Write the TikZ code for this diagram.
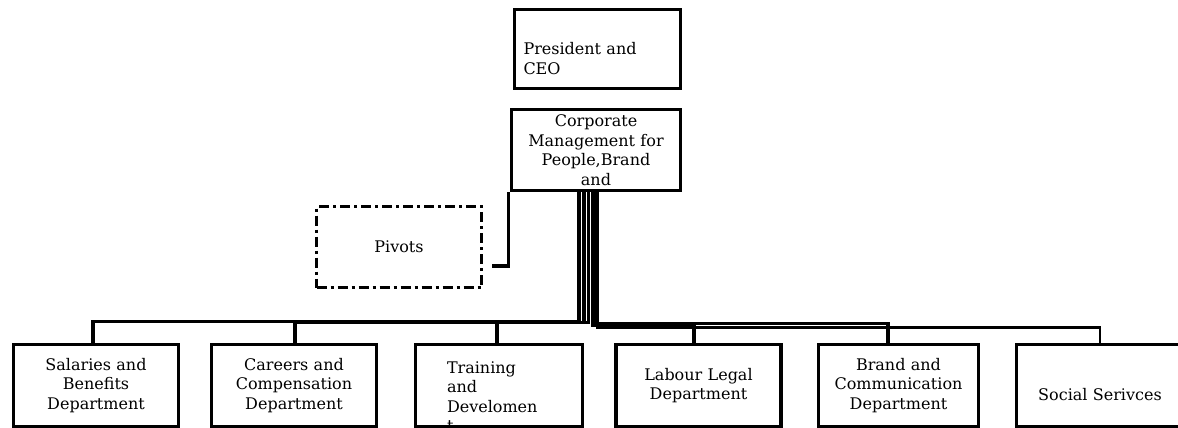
\documentclass[tikz,border=0pt]{standalone}
\usepackage{fontspec}
\setmainfont{DejaVu Serif}
\usepackage{tikz}
\usetikzlibrary{positioning}

\begin{document}
\begin{tikzpicture}[x=1pt, y=-1pt,
				org_box/.style    = {draw, rectangle, line width=3.6pt, inner sep=0pt,
					minimum width=165pt, minimum height=81pt, align=center,
					font=\fontsize{16}{19.5}\selectfont},
				org_dept/.style   = {org_box, minimum height=82pt, text width=150pt},
				org_pivot/.style  = {org_box, line width=3.2pt,
					dash pattern=on 10pt off 4pt on 3pt off 4pt},
				link/.style       = {line width=3.2pt},
				link_thin/.style  = {line width=2.4pt}
				]
				\useasboundingbox (0,0) rectangle (1178,428);
				\clip (0,0) rectangle (1178,428);
				
				\node[org_box, minimum width=166pt, minimum height=79pt, text width=148pt,
				align=left, text height=45pt, text depth=33pt]
				(pres) at (597.5,49) {President and\\CEO};
				\node[org_box, minimum width=169pt, text width=162pt]
				(corp) at (596,150) {Corporate\\Management for\\People,Brand\\and};
				\node[org_pivot] (piv) at (399,247) {Pivots};
				
				\node[org_dept] (sal) at (96,385.5) {Salaries and\\Benefits\\Department};
				\node[org_dept] (car) at (294,385.5) {Careers and\\Compensation\\Department};
				\node[org_dept, minimum width=167pt, text width=104pt, align=left,
				text height=27pt, text depth=52pt]
				(tra) at (499,385.5) {Training\\and\\Develomen\\t};
				\node[org_dept] (lab) at (698.5,385.5) {Labour Legal\\Department};
				\node[org_dept, minimum width=160pt] (bra) at (898.5,385.5) {Brand and\\Communication\\Department};
				\node[org_dept, minimum width=167pt, text height=54pt, text depth=25pt]
				(soc) at (1100,385.5) {Social Serivces};
				
				\draw[link] ([xshift=-1.5pt]corp.south west) |- ([xshift=9pt,yshift=-19pt]piv.east);
				
				\draw[link] ([xshift=-17pt]corp.south) -- ++(0,129.5) -| ([xshift=-3pt]sal.north);
				\draw[link] ([xshift=-12pt]corp.south) -- ++(0,130) -| ([xshift=1pt]car.north);
				\draw[link] ([xshift=-7.5pt]corp.south) -- ++(0,130.5) -| ([xshift=-2pt]tra.north);
				\draw[link] ([xshift=-3.5pt]corp.south) -- ++(0,133) -| ([xshift=-4.5pt]lab.north);
				\draw[link] ([xshift=-1pt]corp.south) -- ++(0,131) -| ([xshift=-10.5pt]bra.north);
				\draw[link_thin] ([xshift=1.5pt]corp.south) -- ++(0,135) -| (soc.north);
			\end{tikzpicture}
\end{document}
